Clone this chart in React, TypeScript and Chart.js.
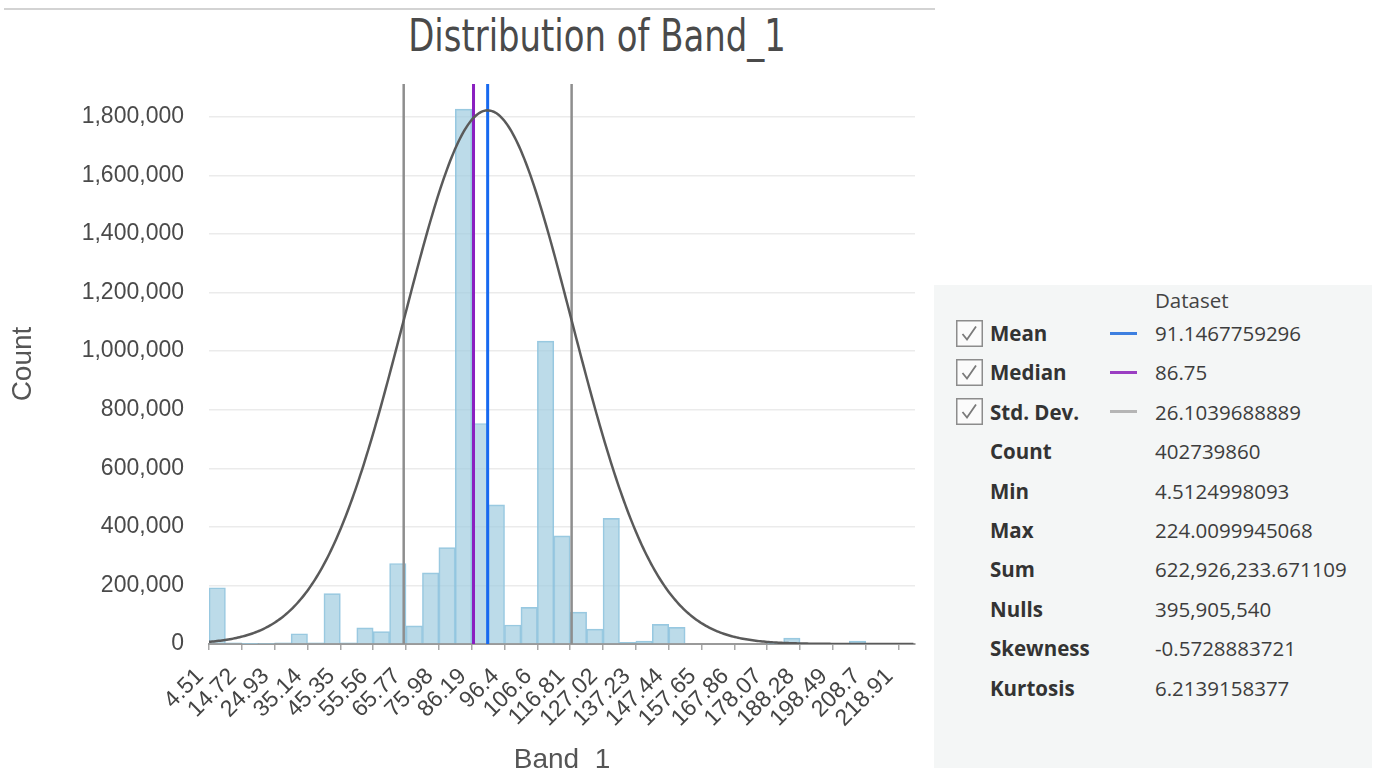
import React, { useEffect, useRef } from "react";
import { Chart, registerables } from "chart.js";

Chart.register(...registerables);

// ---- data ----
const BIN_MIN = 4.5124998093;
const BIN_MAX = 224.0099945068;

const binCounts = [
  192000, 4000, 1000, 2000, 4000, 35000, 4000, 172000, 4000, 55000,
  42000, 275000, 62000, 243000, 329000, 1826000, 753000, 475000, 65000, 125000,
  1034000, 369000, 109000, 51000, 429000, 6000, 10000, 67000, 57000, 0,
  0, 0, 0, 0, 1000, 20000, 1000, 0, 1000, 10000,
  0, 0, 0,
];

const xTickLabels = [
  "4.51", "14.72", "24.93", "35.14", "45.35", "55.56", "65.77", "75.98", "86.19", "96.4", "106.6",
  "116.81", "127.02", "137.23", "147.44", "157.65", "167.86", "178.07", "188.28", "198.49", "208.7", "218.91",
];

const yTickValues = [0, 200000, 400000, 600000, 800000, 1000000, 1200000, 1400000, 1600000, 1800000];

const MEAN = 91.1467759296;
const MEDIAN = 86.75;
const STD_DEV = 26.1039688889;
const CURVE_PEAK = 1822000;
const Y_MAX = 1912000;

const statLabels = ["Mean", "Median", "Std. Dev.", "Count", "Min", "Max", "Sum", "Nulls", "Skewness", "Kurtosis"];
const statValues = [
  "91.1467759296", "86.75", "26.1039688889", "402739860", "4.5124998093",
  "224.0099945068", "622,926,233.671109", "395,905,540", "-0.5728883721", "6.2139158377",
];
const statChecked = [true, true, true, false, false, false, false, false, false, false];
const statLineColors = ["#3d7fe0", "#9a3ec2", "#b5b5b5", null, null, null, null, null, null, null];

const CHART_FONT = '"Liberation Sans", Arial, sans-serif';
const PANEL_FONT = '"Open Sans", "Noto Sans", sans-serif';

export default function App() {
  const canvasRef = useRef<HTMLCanvasElement | null>(null);

  useEffect(() => {
    const canvas = canvasRef.current;
    if (!canvas) return;
    const nBins = binCounts.length;
    const binWidth = (BIN_MAX - BIN_MIN) / nBins;
    const barData = binCounts.map((c, i) => ({ x: BIN_MIN + (i + 0.5) * binWidth, y: c }));
    const xTickValues = xTickLabels.map((_, i) => BIN_MIN + i * 2 * binWidth);

    const curveData: { x: number; y: number }[] = [];
    for (let x = BIN_MIN; x <= BIN_MAX + 1e-9; x += 0.5) {
      const z = (x - MEAN) / STD_DEV;
      curveData.push({ x, y: CURVE_PEAK * Math.exp(-0.5 * z * z) });
    }

    const vline = (x: number) => [
      { x, y: 0 },
      { x, y: Y_MAX },
    ];

    const chart = new Chart(canvas, {
      type: "bar",
      data: {
        datasets: [
          {
            type: "line",
            data: curveData,
            borderColor: "#5a5a5a",
            borderWidth: 2.5,
            pointRadius: 0,
            tension: 0,
            order: 1,
          } as any,
          {
            type: "line",
            data: vline(MEAN),
            borderColor: "#1769f0",
            borderWidth: 3,
            pointRadius: 0,
            order: 2,
          } as any,
          {
            type: "line",
            data: vline(MEDIAN),
            borderColor: "#8a1fc0",
            borderWidth: 3,
            pointRadius: 0,
            order: 3,
          } as any,
          {
            type: "line",
            data: vline(MEAN - STD_DEV),
            borderColor: "#8e8e8e",
            borderWidth: 2.5,
            pointRadius: 0,
            order: 4,
          } as any,
          {
            type: "line",
            data: vline(MEAN + STD_DEV),
            borderColor: "#8e8e8e",
            borderWidth: 2.5,
            pointRadius: 0,
            order: 5,
          } as any,
          {
            type: "bar",
            data: barData,
            backgroundColor: "rgba(160, 204, 224, 0.7)",
            borderColor: "rgba(140, 194, 222, 0.9)",
            borderWidth: 1,
            barPercentage: 1,
            categoryPercentage: 1,
            order: 10,
          } as any,
        ],
      },
      options: {
        animation: false,
        responsive: false,
        layout: { padding: { left: 0, right: 20, top: 84, bottom: 0 } },
        plugins: {
          legend: { display: false },
          tooltip: { enabled: false },
          title: { display: false },
        },
        scales: {
          x: {
            type: "linear",
            min: BIN_MIN,
            max: BIN_MAX,
            offset: false,
            grid: {
              offset: false,
              drawOnChartArea: false,
              drawTicks: true,
              tickLength: 6,
              color: "#a8a8a8",
              lineWidth: 1.5,
            },
            border: { display: true, color: "#9a9a9a", width: 2 },
            afterBuildTicks: (scale: any) => {
              scale.ticks = xTickValues.map((v) => ({ value: v }));
            },
            afterFit: (scale: any) => {
              scale.height = 790 - 644;
            },
            ticks: {
              autoSkip: false,
              minRotation: 45,
              maxRotation: 45,
              padding: 13,
              labelOffset: -9,
              color: "#444",
              font: { family: CHART_FONT, size: 23 },
              callback: (_v: any, i: number) => xTickLabels[i],
            },
            title: {
              display: true,
              text: "Band_1",
              color: "#555",
              font: { family: CHART_FONT, size: 28 },
              padding: { top: 0, bottom: 13 },
            },
          },
          y: {
            type: "linear",
            min: 0,
            max: Y_MAX,
            grid: { color: "#ebebeb", lineWidth: 1.5, drawTicks: false },
            border: { display: false },
            afterBuildTicks: (scale: any) => {
              scale.ticks = yTickValues.map((v) => ({ value: v }));
            },
            afterFit: (scale: any) => {
              scale.width = 209;
            },
            ticks: {
              padding: 25,
              color: "#4a4a4a",
              font: { family: CHART_FONT, size: 23 },
              callback: (v: any) => Number(v).toLocaleString("en-US"),
            },
            title: {
              display: true,
              text: "Count",
              color: "#555",
              font: { family: CHART_FONT, size: 28 },
              padding: { top: 6, bottom: 0 },
            },
          },
        },
      } as any,
    });

    return () => {
      chart.destroy();
    };
  }, []);

  const rowY = (i: number) => 333 + i * 39.4;
  const lineH = 26;

  return (
    <div
      style={{
        position: "fixed",
        left: 0,
        top: 0,
        width: 1378,
        height: 771,
        overflow: "hidden",
        background: "#ffffff",
      }}
    >
      <div
        style={{
          position: "absolute",
          left: 4,
          top: 8,
          width: 931,
          height: 2,
          background: "#d3d3d3",
        }}
      />
      <div
        style={{
          position: "absolute",
          left: 597,
          top: 18,
          transform: "translateX(-50%) scaleY(1.16)",
          transformOrigin: "50% 50%",
          whiteSpace: "nowrap",
          fontFamily: '"Liberation Sans Narrow", "DejaVu Sans Condensed", "Liberation Sans", sans-serif',
          fontSize: 37.7,
          lineHeight: "37.7px",
          color: "#4a4a4a",
        }}
      >
        Distribution of Band_1
      </div>
      <canvas
        ref={canvasRef}
        width={935}
        height={790}
        style={{ position: "absolute", left: 0, top: 0 }}
      />
      <div
        style={{
          position: "absolute",
          left: 934,
          top: 285,
          width: 438,
          height: 483,
          background: "#f4f6f6",
          fontFamily: PANEL_FONT,
          fontSize: 20.5,
        }}
      >
        <div
          style={{
            position: "absolute",
            left: 1155 - 934,
            top: 300 - 285 - lineH / 2,
            lineHeight: `${lineH}px`,
            color: "#444",
            whiteSpace: "nowrap",
          }}
        >
          Dataset
        </div>
        {statLabels.map((label, i) => {
          const cy = rowY(i) - 285;
          const lc = statLineColors[i];
          return (
            <React.Fragment key={label}>
              {statChecked[i] && (
                <svg
                  width={27}
                  height={27}
                  style={{ position: "absolute", left: 956 - 934, top: cy - 13.5 }}
                >
                  <rect x={0.75} y={0.75} width={25.5} height={25.5} fill="#fbfbfb" stroke="#8c8c8c" strokeWidth={1.5} />
                  <polyline points="6.5,14 11,19.5 20,6.5" fill="none" stroke="#7a7a7a" strokeWidth={1.8} />
                </svg>
              )}
              <div
                style={{
                  position: "absolute",
                  left: 990 - 934,
                  top: cy - lineH / 2,
                  lineHeight: `${lineH}px`,
                  fontWeight: 700,
                  color: "#333",
                  whiteSpace: "nowrap",
                }}
              >
                {label}
              </div>
              {lc && (
                <div
                  style={{
                    position: "absolute",
                    left: 1110 - 934,
                    top: cy - 1.5,
                    width: 27,
                    height: 3,
                    background: lc,
                  }}
                />
              )}
              <div
                style={{
                  position: "absolute",
                  left: 1155 - 934,
                  top: cy - lineH / 2,
                  lineHeight: `${lineH}px`,
                  color: "#3d3d3d",
                  whiteSpace: "nowrap",
                }}
              >
                {statValues[i]}
              </div>
            </React.Fragment>
          );
        })}
      </div>
    </div>
  );
}
